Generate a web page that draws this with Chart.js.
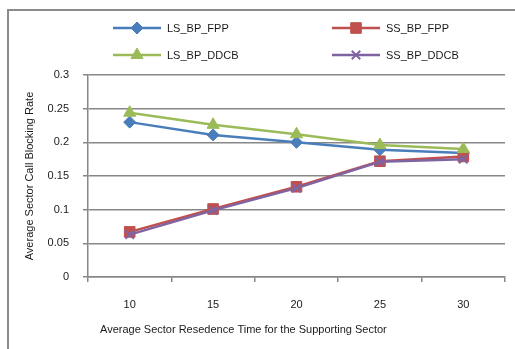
<!DOCTYPE html>
<html>
<head>
<meta charset="utf-8">
<script src="https://cdn.jsdelivr.net/npm/chart.js@4"></script>
<style>
  html, body { margin: 0; padding: 0; background: #fff; overflow: hidden; }
  .wrap { position: relative; width: 515px; height: 349px; }
  .frame { position: absolute; left: 7px; top: 9px; width: 600px; height: 400px; border: 2px solid #8c8c8c; }
  canvas { position: absolute; left: 0; top: 0; }
</style>
</head>
<body>
<div class="wrap">
  <div class="frame"></div>
  <canvas id="chart" width="515" height="349"></canvas>
</div>
<script>
const categories = ['10', '15', '20', '25', '30']
const lsBpFpp = [0.230, 0.211, 0.200, 0.189, 0.184]
const ssBpFpp = [0.067, 0.101, 0.134, 0.172, 0.179]
const lsBpDdcb = [0.244, 0.226, 0.212, 0.196, 0.190]
const ssBpDdcb = [0.063, 0.099, 0.132, 0.171, 0.175]
const yTicks = [0, 0.05, 0.1, 0.15, 0.2, 0.25, 0.3]

const FONT = '"Liberation Sans", Arial, sans-serif'
const GRID = '#878787'

// legend in two fixed columns, titles placed by hand
const extras = {
  id: 'extras',
  afterDraw(chart) {
    const { ctx } = chart
    const cols = [113, 332]
    const rows = [28, 55]
    ctx.save()
    chart.data.datasets.forEach((ds, i) => {
      const x = cols[i % 2]
      const y = rows[Math.floor(i / 2)]
      ctx.strokeStyle = ds.borderColor
      ctx.lineWidth = 2.5
      ctx.beginPath()
      ctx.moveTo(x, y)
      ctx.lineTo(x + 48, y)
      ctx.stroke()
      ctx.fillStyle = ds.pointBackgroundColor
      ctx.strokeStyle = ds.pointBorderColor
      ctx.lineWidth = ds.pointBorderWidth
      Chart.helpers.drawPoint(ctx, { pointStyle: ds.pointStyle, radius: ds.pointRadius, rotation: 0, borderWidth: ds.pointBorderWidth }, x + 24, y)
      ctx.fillStyle = '#1a1a1a'
      ctx.font = '11px ' + FONT
      ctx.textBaseline = 'middle'
      ctx.textAlign = 'left'
      ctx.fillText(ds.label, x + 54, y + 1)
    })
    ctx.fillStyle = '#1a1a1a'
    ctx.font = '11px ' + FONT
    ctx.textAlign = 'left'
    ctx.textBaseline = 'middle'
    ctx.fillText('Average Sector Resedence Time for the Supporting Sector', 100, 330)
    ctx.translate(30, 176)
    ctx.rotate(-Math.PI / 2)
    ctx.textAlign = 'center'
    ctx.fillText('Average Sector Call Blocking Rate', 0, 0)
    ctx.restore()
  },
}

function series(label, data, color, style, radius, order) {
  return {
    label,
    data,
    order,
    borderColor: color,
    backgroundColor: color,
    borderWidth: 2.5,
    pointStyle: style,
    pointRadius: radius,
    pointHoverRadius: radius,
    pointBackgroundColor: color,
    pointBorderColor: color,
    pointBorderWidth: style === 'crossRot' ? 2 : 1,
    tension: 0,
  }
}

new Chart(document.getElementById('chart'), {
  type: 'line',
  data: {
    labels: categories,
    datasets: [
      series('LS_BP_FPP', lsBpFpp, '#4a7ebb', 'rectRot', 6, 3),
      series('SS_BP_FPP', ssBpFpp, '#c0504d', 'rect', 7.5, 2),
      series('LS_BP_DDCB', lsBpDdcb, '#9bbb59', 'triangle', 7, 1),
      series('SS_BP_DDCB', ssBpDdcb, '#8064a2', 'crossRot', 6, 0),
    ],
  },
  options: {
    responsive: false,
    animation: false,
    events: [],
    layout: { padding: { left: 0, top: 75, right: 10, bottom: 0 } },
    plugins: { legend: { display: false }, tooltip: { enabled: false } },
    scales: {
      x: {
        offset: true,
        grid: { offset: true, drawOnChartArea: false, color: GRID, lineWidth: 1.5, tickLength: 5 },
        border: { color: GRID, width: 1.5 },
        ticks: { color: '#1a1a1a', font: { family: FONT, size: 11 }, padding: 16, maxRotation: 0 },
        afterFit(scale) { scale.height = 72 },
      },
      y: {
        min: 0,
        max: 0.3,
        afterBuildTicks(scale) { scale.ticks = yTicks.map((v) => ({ value: v })) },
        grid: { color: GRID, lineWidth: 1.5, tickLength: 5 },
        border: { color: GRID, width: 1.5 },
        ticks: {
          color: '#1a1a1a',
          font: { family: FONT, size: 11 },
          padding: 14,
          callback: (v) => String(Number(v.toFixed(2))),
        },
        afterFit(scale) { scale.width = 88 },
      },
    },
  },
  plugins: [extras],
})
</script>
</body>
</html>
